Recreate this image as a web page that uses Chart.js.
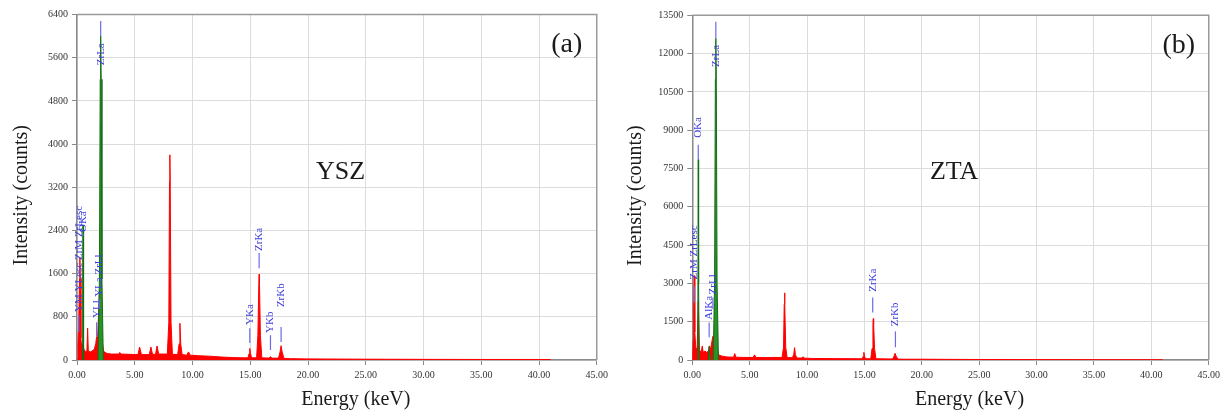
<!DOCTYPE html>
<html>
<head>
<meta charset="utf-8">
<script src="https://cdn.jsdelivr.net/npm/chart.js@4.4.0/dist/chart.umd.min.js"></script>
<style>
  html, body { margin: 0; padding: 0; background: #fff; }
  .panel { position: absolute; top: 0; width: 612px; height: 412px; }
</style>
</head>
<body>
<div class="panel" style="left:0"><canvas id="chartA"></canvas></div>
<div class="panel" style="left:612px"><canvas id="chartB"></canvas></div>
<script>
// x axis (keV), shared by both spectra
const energyTicks = [0, 5, 10, 15, 20, 25, 30, 35, 40, 45];

// (a) YSZ spectrum
const yszTicks = [0, 800, 1600, 2400, 3200, 4000, 4800, 5600, 6400];
const yszEnergy = [0.00, 0.08, 0.15, 0.22, 0.25, 0.28, 0.34, 0.40, 0.50, 0.60, 0.75, 0.86, 0.92, 0.98, 1.20, 1.50, 1.62, 1.70, 1.78, 1.86, 1.95, 2.05, 2.15, 2.30, 2.60, 3.00, 3.62, 3.70, 3.80, 4.50, 5.28, 5.42, 5.58, 6.26, 6.40, 6.54, 6.80, 6.93, 7.07, 7.82, 7.95, 8.01, 8.04, 8.07, 8.14, 8.26, 8.72, 8.84, 8.91, 8.98, 9.10, 9.50, 9.65, 9.80, 10.50, 11.50, 12.50, 13.50, 14.50, 14.80, 14.90, 14.96, 15.02, 15.12, 15.55, 15.66, 15.74, 15.77, 15.80, 15.88, 16.00, 16.62, 16.75, 16.88, 17.45, 17.58, 17.67, 17.76, 17.92, 18.50, 20.00, 25.00, 30.00, 35.00, 40.00, 41.00];
const yszCounts = [0, 300, 700, 1500, 1900, 1500, 400, 250, 300, 200, 150, 170, 590, 160, 150, 200, 300, 430, 380, 800, 1300, 1200, 400, 160, 120, 110, 110, 140, 110, 105, 100, 240, 100, 100, 240, 105, 105, 260, 110, 110, 700, 3300, 3800, 3300, 700, 105, 100, 300, 680, 300, 100, 90, 150, 90, 80, 70, 55, 45, 40, 40, 120, 215, 120, 40, 40, 450, 1400, 1590, 1400, 450, 40, 35, 60, 35, 35, 150, 265, 150, 30, 25, 20, 15, 12, 10, 10, 8];
// deconvoluted peaks drawn in green (null splits peaks)
const yszFitEnergy = [0.45, 0.49, 0.52, 0.55, 0.59, null, 1.82, 1.94, 2.01, 2.05, 2.09, 2.16, 2.28];
const yszFitCounts = [0, 1200, 2500, 1200, 0, null, 0, 1500, 5200, 6000, 5200, 1500, 0];
// peak markers
const yszMarkLabel = ['YM YLesc ZrM ZrLesc', 'OKa', 'YLl', 'YLa ZrLl', 'ZrLa', 'YKa', 'ZrKa', 'YKb', 'ZrKb'];
const yszMarkEnergy = [0.15, 0.52, 1.70, 1.92, 2.05, 14.96, 15.77, 16.75, 17.67];
const yszMarkLow = [520, 2300, 430, 950, 6000, 315, 1700, 185, 335];
const yszMarkHigh = [830, 2330, 700, 1130, 6280, 590, 1980, 460, 610];
const yszMarkText = [890, 2370, 780, 1170, 5460, 650, 2020, 500, 980];

// (b) ZTA spectrum
const ztaTicks = [0, 1500, 3000, 4500, 6000, 7500, 9000, 10500, 12000, 13500];
const ztaEnergy = [0.00, 0.08, 0.12, 0.17, 0.22, 0.30, 0.42, 0.52, 0.62, 0.76, 0.87, 0.95, 1.10, 1.25, 1.40, 1.49, 1.58, 1.70, 1.80, 1.90, 2.00, 2.12, 2.30, 2.60, 3.00, 3.60, 3.70, 3.80, 4.50, 5.30, 5.42, 5.55, 6.40, 6.90, 7.82, 7.95, 8.01, 8.04, 8.07, 8.14, 8.26, 8.72, 8.84, 8.91, 8.98, 9.10, 9.50, 9.65, 9.80, 10.50, 12.00, 14.50, 14.82, 14.90, 14.95, 15.00, 15.10, 15.55, 15.66, 15.74, 15.77, 15.80, 15.88, 16.00, 17.45, 17.58, 17.67, 17.76, 17.92, 18.50, 20.00, 25.00, 30.00, 35.00, 40.00, 41.00];
const ztaCounts = [0, 800, 2000, 3300, 1100, 500, 400, 2300, 400, 300, 550, 300, 350, 300, 350, 550, 400, 700, 940, 900, 2200, 500, 200, 150, 120, 110, 250, 110, 100, 100, 200, 100, 95, 100, 100, 500, 2200, 2630, 2200, 500, 95, 90, 220, 485, 220, 80, 75, 120, 70, 60, 55, 50, 50, 150, 300, 150, 50, 50, 450, 1400, 1620, 1400, 450, 50, 40, 150, 260, 150, 35, 30, 30, 20, 15, 12, 10, 8];
const ztaFitEnergy = [0.45, 0.49, 0.52, 0.55, 0.59, null, 1.40, 1.48, 1.56, null, 1.82, 1.94, 2.01, 2.05, 2.09, 2.16, 2.28];
const ztaFitCounts = [0, 3000, 7850, 3000, 0, null, 0, 550, 0, null, 0, 3000, 11000, 12600, 11000, 3000, 0];
const ztaMarkLabel = ['ZrM ZrLesc', 'OKa', 'AlKa', 'ZrLl', 'ZrLa', 'ZrKa', 'ZrKb'];
const ztaMarkEnergy = [0.17, 0.52, 1.47, 1.79, 2.05, 15.72, 17.70];
const ztaMarkLow = [2250, 7850, 890, 2000, 12600, 1860, 500];
const ztaMarkHigh = [2880, 8430, 1470, 2450, 13250, 2450, 1120];
const ztaMarkText = [3155, 8700, 1580, 2570, 11480, 2670, 1320];

const serif = '"Liberation Serif", "Times New Roman", serif';

function points(xs, ys) {
    return xs.map((x, i) => (x === null ? { x: NaN, y: null } : { x: x, y: ys[i] }));
}

function makeDecor(opt) {
    return {
        id: 'decor',
        afterDatasetsDraw(chart) {
            const ctx = chart.ctx;
            const xs = chart.scales.x;
            const ys = chart.scales.y;
            ctx.save();
            ctx.strokeStyle = '#6b6bea';
            ctx.fillStyle = '#3c3cdc';
            ctx.lineWidth = 1.2;
            ctx.font = '11px ' + serif;
            opt.labels.forEach((label, i) => {
                const x = xs.getPixelForValue(opt.energy[i]);
                ctx.beginPath();
                ctx.moveTo(x, ys.getPixelForValue(opt.low[i]));
                ctx.lineTo(x, ys.getPixelForValue(opt.high[i]));
                ctx.stroke();
                ctx.save();
                ctx.translate(x, ys.getPixelForValue(opt.text[i]));
                ctx.rotate(-Math.PI / 2);
                ctx.textAlign = 'left';
                ctx.textBaseline = 'middle';
                ctx.fillText(label, 0, 0);
                ctx.restore();
            });
            ctx.restore();
        },
        afterDraw(chart) {
            const ctx = chart.ctx;
            const a = chart.chartArea;
            ctx.save();
            // box around the plot
            ctx.strokeStyle = '#9a9a9a';
            ctx.lineWidth = 1.5;
            ctx.beginPath();
            ctx.moveTo(a.left, a.top);
            ctx.lineTo(a.right, a.top);
            ctx.lineTo(a.right, a.bottom);
            ctx.stroke();

            ctx.fillStyle = '#1a1a1a';
            ctx.textAlign = 'center';
            ctx.textBaseline = 'middle';
            ctx.font = '20px ' + serif;
            ctx.fillText('Energy (keV)', a.left + a.width / 2 + 19, 400);

            ctx.save();
            ctx.translate(opt.yTitleX, a.top + a.height / 2 + 8);
            ctx.rotate(-Math.PI / 2);
            ctx.fillText('Intensity (counts)', 0, 0);
            ctx.restore();

            ctx.font = '28px ' + serif;
            ctx.fillText(opt.letter, a.right - 30, a.top + 30);
            ctx.font = '26px ' + serif;
            ctx.fillText(opt.sample, a.left + a.width * 0.507, a.top + a.height * 0.456);
            ctx.restore();
        }
    };
}

function buildChart(id, spec) {
    const ctx = document.getElementById(id).getContext('2d');
    return new Chart(ctx, {
        type: 'line',
        data: {
            datasets: [
                {
                    data: points(spec.fitEnergy, spec.fitCounts),
                    borderColor: 'rgb(20, 110, 20)',
                    backgroundColor: 'rgb(40, 145, 40)',
                    borderWidth: 1,
                    fill: 'origin',
                    pointRadius: 0,
                    tension: 0,
                    spanGaps: false,
                    order: 1
                },
                {
                    data: points(spec.energy, spec.counts),
                    borderColor: 'rgb(255, 0, 0)',
                    backgroundColor: 'rgb(255, 0, 0)',
                    borderWidth: 1,
                    fill: 'origin',
                    pointRadius: 0,
                    tension: 0,
                    order: 2
                }
            ]
        },
        options: {
            responsive: true,
            maintainAspectRatio: false,
            animation: false,
            layout: {
                padding: { left: 0, top: spec.padTop, right: spec.padRight, bottom: 0 }
            },
            plugins: {
                legend: { display: false },
                tooltip: { enabled: false }
            },
            scales: {
                x: {
                    type: 'linear',
                    min: 0,
                    max: 45,
                    afterBuildTicks: s => { s.ticks = energyTicks.map(v => ({ value: v })); },
                    afterFit: s => { s.height = 52; },
                    ticks: {
                        callback: v => v.toFixed(2),
                        font: { family: serif, size: 10 },
                        color: '#333',
                        padding: 4,
                        maxRotation: 0
                    },
                    grid: { color: '#dcdcdc', lineWidth: 1, tickLength: 5, tickColor: '#888' },
                    border: { color: '#8a8a8a', width: 1.5 }
                },
                y: {
                    min: 0,
                    max: spec.yTicks[spec.yTicks.length - 1],
                    afterBuildTicks: s => { s.ticks = spec.yTicks.map(v => ({ value: v })); },
                    afterFit: s => { s.width = spec.yWidth; },
                    ticks: {
                        callback: v => String(v),
                        font: { family: serif, size: 10 },
                        color: '#333',
                        padding: 4
                    },
                    grid: { color: '#dcdcdc', lineWidth: 1, tickLength: 5, tickColor: '#888' },
                    border: { color: '#8a8a8a', width: 1.5 }
                }
            }
        },
        plugins: [makeDecor({
            labels: spec.markLabel, energy: spec.markEnergy,
            low: spec.markLow, high: spec.markHigh, text: spec.markText,
            letter: spec.letter, sample: spec.sample, yTitleX: spec.yTitleX
        })]
    });
}

buildChart('chartA', {
    energy: yszEnergy, counts: yszCounts,
    fitEnergy: yszFitEnergy, fitCounts: yszFitCounts,
    yTicks: yszTicks,
    markLabel: yszMarkLabel, markEnergy: yszMarkEnergy,
    markLow: yszMarkLow, markHigh: yszMarkHigh, markText: yszMarkText,
    letter: '(a)', sample: 'YSZ',
    padTop: 14.5, padRight: 14.3, yWidth: 77, yTitleX: 22
});

buildChart('chartB', {
    energy: ztaEnergy, counts: ztaCounts,
    fitEnergy: ztaFitEnergy, fitCounts: ztaFitCounts,
    yTicks: ztaTicks,
    markLabel: ztaMarkLabel, markEnergy: ztaMarkEnergy,
    markLow: ztaMarkLow, markHigh: ztaMarkHigh, markText: ztaMarkText,
    letter: '(b)', sample: 'ZTA',
    padTop: 15.3, padRight: 12.5, yWidth: 80.3, yTitleX: 23.5
});
</script>
</body>
</html>
